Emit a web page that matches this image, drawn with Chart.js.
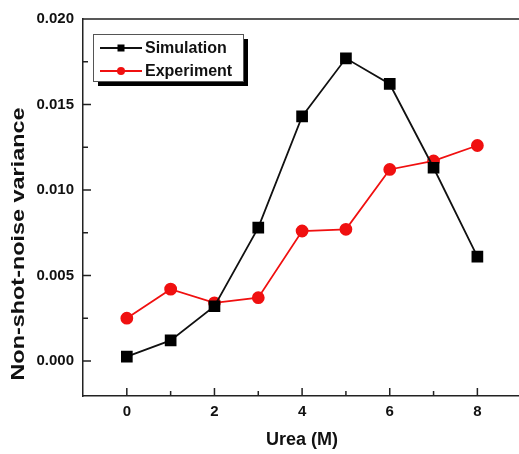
<!DOCTYPE html>
<html>
<head>
<meta charset="utf-8">
<script src="https://cdn.jsdelivr.net/npm/chart.js@4"></script>
<style>
  html, body { margin: 0; padding: 0; background: #fff; overflow: hidden; }
  #wrap { width: 530px; height: 454px; }
</style>
</head>
<body>
<div id="wrap"><canvas id="myChart" width="530" height="454"></canvas></div>
<script>
const urea = [0, 1, 2, 3, 4, 5, 6, 7, 8];
const simulation = [0.00025, 0.0012, 0.0032, 0.0078, 0.0143, 0.0177, 0.0162, 0.0113, 0.0061];
const experiment = [0.0025, 0.0042, 0.0034, 0.0037, 0.0076, 0.0077, 0.0112, 0.0117, 0.0126];
const xTicks = [0, 2, 4, 6, 8];
const xMinor = [1, 3, 5, 7];
const yTicks = [0, 0.005, 0.01, 0.015, 0.02];
const yMinor = [0.0025, 0.0075, 0.0125, 0.0175];

const FONT = '"Liberation Sans", Arial, sans-serif';
const AXIS = '#222';

// frame, inward ticks, y title and boxed legend
const decor = {
  id: 'decor',
  afterDraw(chart) {
    const ctx = chart.ctx;
    const a = chart.chartArea;
    const xs = chart.scales.x, ys = chart.scales.y;
    ctx.save();
    ctx.strokeStyle = AXIS;
    ctx.lineWidth = 1.5;
    ctx.beginPath();
    ctx.moveTo(a.left, a.top); ctx.lineTo(a.right, a.top);
    ctx.moveTo(a.right, a.top); ctx.lineTo(a.right, a.bottom);
    xTicks.forEach(v => { const p = xs.getPixelForValue(v); ctx.moveTo(p, a.bottom); ctx.lineTo(p, a.bottom - 8); });
    xMinor.forEach(v => { const p = xs.getPixelForValue(v); ctx.moveTo(p, a.bottom); ctx.lineTo(p, a.bottom - 5); });
    yTicks.forEach(v => { const p = ys.getPixelForValue(v); ctx.moveTo(a.left, p); ctx.lineTo(a.left + 8, p); });
    yMinor.forEach(v => { const p = ys.getPixelForValue(v); ctx.moveTo(a.left, p); ctx.lineTo(a.left + 5, p); });
    ctx.stroke();

    // y axis title (stretched along its length like the original)
    ctx.save();
    ctx.translate(19, 244);
    ctx.rotate(-Math.PI / 2);
    ctx.scale(1.3, 1);
    ctx.fillStyle = '#111';
    ctx.font = 'bold 18px ' + FONT;
    ctx.textAlign = 'center';
    ctx.textBaseline = 'middle';
    ctx.fillText('Non-shot-noise variance', 0, 0);
    ctx.restore();

    // legend box with drop shadow
    const L = 93, T = 34, W = 150, H = 47;
    ctx.fillStyle = '#000';
    ctx.fillRect(L + 5, T + 5, W, H);
    ctx.fillStyle = '#fff';
    ctx.fillRect(L, T, W, H);
    ctx.strokeStyle = '#555';
    ctx.lineWidth = 1;
    ctx.strokeRect(L + 0.5, T + 0.5, W, H);
    chart.data.datasets.forEach((ds, i) => {
      const y = T + 14 + i * 23;
      ctx.strokeStyle = ds.borderColor;
      ctx.lineWidth = 2;
      ctx.beginPath();
      ctx.moveTo(L + 7, y); ctx.lineTo(L + 49, y);
      ctx.stroke();
      ctx.fillStyle = ds.pointBackgroundColor;
      if (ds.pointStyle === 'rect') {
        ctx.fillRect(L + 28 - 3.5, y - 3.5, 7, 7);
      } else {
        ctx.beginPath(); ctx.arc(L + 28, y, 4, 0, Math.PI * 2); ctx.fill();
      }
      ctx.fillStyle = '#111';
      ctx.font = 'bold 16px ' + FONT;
      ctx.textAlign = 'left';
      ctx.textBaseline = 'middle';
      ctx.fillText(ds.label, L + 52, y + 1);
    });
    ctx.restore();
  }
};

const data = {
  datasets: [{
    label: 'Simulation',
    data: urea.map((x, i) => ({ x: x, y: simulation[i] })),
    borderColor: '#111',
    backgroundColor: '#000',
    pointBackgroundColor: '#000',
    pointBorderColor: '#000',
    pointStyle: 'rect',
    pointRadius: 7,
    borderWidth: 1.8
  }, {
    label: 'Experiment',
    data: urea.map((x, i) => ({ x: x, y: experiment[i] })),
    borderColor: '#f01010',
    backgroundColor: '#f01010',
    pointBackgroundColor: '#f01010',
    pointBorderColor: '#f01010',
    pointStyle: 'circle',
    pointRadius: 5.5,
    borderWidth: 1.8
  }]
};

const config = {
  type: 'line',
  data: data,
  options: {
    responsive: false,
    animation: false,
    layout: { padding: { left: 0, top: 19, right: 6, bottom: 0 } },
    plugins: { legend: { display: false }, tooltip: { enabled: false } },
    scales: {
      x: {
        type: 'linear',
        min: -1,
        max: 9,
        afterBuildTicks: s => { s.ticks = xTicks.map(v => ({ value: v })); },
        afterFit: s => { s.height = 58; },
        grid: { display: false, drawTicks: false },
        border: { display: true, color: AXIS, width: 1.5 },
        ticks: { color: '#111', padding: 7, font: { family: FONT, size: 15, weight: 'bold' }, callback: v => String(v) },
        title: { display: true, text: 'Urea (M)', color: '#111', padding: { top: 10, bottom: 3 }, font: { family: FONT, size: 18, weight: 'bold' } }
      },
      y: {
        min: -0.00205,
        max: 0.02,
        afterBuildTicks: s => { s.ticks = yTicks.map(v => ({ value: v })); },
        afterFit: s => { s.width = 83; },
        grid: { display: false, drawTicks: false },
        border: { display: true, color: AXIS, width: 1.5 },
        ticks: { color: '#111', padding: 9, font: { family: FONT, size: 15, weight: 'bold' }, callback: v => v.toFixed(3) }
      }
    }
  },
  plugins: [decor]
};

var myChart = new Chart(document.getElementById('myChart'), config);
</script>
</body>
</html>
